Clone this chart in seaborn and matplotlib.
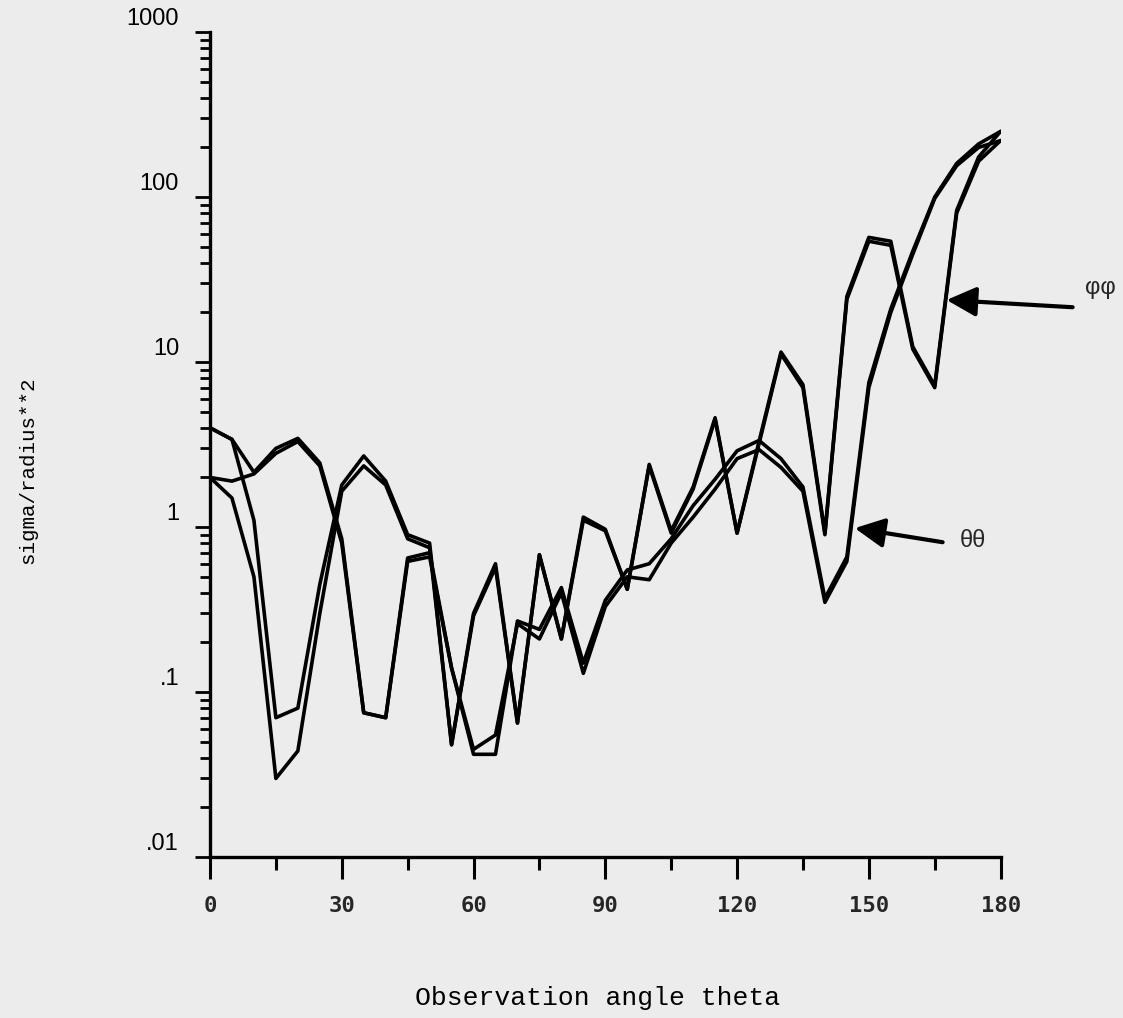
import numpy as np
import pandas as pd
import matplotlib
matplotlib.use("Agg")
import matplotlib.pyplot as plt
import matplotlib.transforms as mtransforms
from matplotlib.ticker import MultipleLocator, LogLocator, NullFormatter
import seaborn as sns

# observation angle, every 5 degrees
theta = list(range(0, 181, 5))

# phi-phi polarisation, two computations
phiphi_a = [4.0, 3.4, 1.1, 0.07, 0.08, 0.45, 1.8, 2.7, 1.9, 0.9, 0.8, 0.048, 0.3,
            0.6, 0.065, 0.68, 0.21, 1.15, 0.97, 0.42, 2.4, 0.95, 1.75, 4.6, 0.92,
            3.3, 11.5, 7.3, 0.92, 25, 57, 54, 12.4, 7.2, 83, 175, 250]
phiphi_b = [2.0, 1.5, 0.5, 0.03, 0.044, 0.3, 1.65, 2.35, 1.8, 0.85, 0.75, 0.048, 0.29,
            0.57, 0.065, 0.68, 0.21, 1.1, 0.95, 0.42, 2.35, 0.92, 1.7, 4.5, 0.92,
            3.2, 11.2, 7.0, 0.9, 24, 54, 51, 12, 7.0, 80, 165, 220]

# theta-theta polarisation, two computations
thth_a = [4.0, 3.4, 2.15, 3.0, 3.45, 2.45, 0.85, 0.075, 0.07, 0.62, 0.66, 0.14, 0.042,
          0.042, 0.27, 0.24, 0.43, 0.15, 0.36, 0.55, 0.6, 0.85, 1.35, 1.95, 2.9,
          3.35, 2.6, 1.75, 0.37, 0.66, 7.5, 21, 47, 100, 160, 210, 250]
thth_b = [2.0, 1.9, 2.1, 2.8, 3.3, 2.35, 0.8, 0.075, 0.07, 0.65, 0.7, 0.14, 0.045,
          0.055, 0.26, 0.21, 0.40, 0.13, 0.33, 0.5, 0.48, 0.8, 1.15, 1.7, 2.6,
          2.95, 2.3, 1.65, 0.35, 0.62, 7.0, 20, 45, 98, 155, 200, 220]

y_ticks = [0.01, 0.1, 1, 10, 100, 1000]
y_tick_labels = [".01", ".1", "1", "10", "100", "1000"]
x_ticks = [0, 30, 60, 90, 120, 150, 180]

sns.set_theme(style="white")
plt.rcParams["font.family"] = ["Liberation Sans", "DejaVu Sans"]

paper = "#ececec"
fig = plt.figure(figsize=(11.23, 10.18), dpi=100, facecolor=paper)
ax = fig.add_axes([0.187, 0.158, 0.704, 0.8105])
ax.set_facecolor(paper)

for series in (thth_a, thth_b, phiphi_a, phiphi_b):
    sns.lineplot(x=theta, y=series, color="black", linewidth=2.6, ax=ax)

ax.set_yscale("log")
ax.set_xlim(0, 180)
ax.set_ylim(0.01, 1000)

for side in ("top", "right"):
    ax.spines[side].set_visible(False)
for side in ("left", "bottom"):
    ax.spines[side].set_linewidth(2.4)
    ax.spines[side].set_color("black")

# x axis ticks
ax.xaxis.set_major_locator(MultipleLocator(30))
ax.xaxis.set_minor_locator(MultipleLocator(15))
ax.tick_params(axis="x", which="major", direction="out", length=16, width=2.2,
               color="black", pad=12, bottom=True)
ax.tick_params(axis="x", which="minor", direction="out", length=9, width=2.2,
               color="black", bottom=True)
ax.set_xticks(x_ticks)
ax.set_xticklabels([str(t) for t in x_ticks], fontfamily="DejaVu Sans Mono",
                   fontweight="bold", fontsize=16)

# y axis ticks, labels sit just above each decade tick
ax.yaxis.set_major_locator(LogLocator(base=10, numticks=10))
ax.yaxis.set_minor_locator(LogLocator(base=10, subs=np.arange(2, 10), numticks=10))
ax.yaxis.set_minor_formatter(NullFormatter())
ax.set_yticks(y_ticks)
ax.set_yticklabels([])
ax.tick_params(axis="y", which="major", direction="out", length=11, width=2.0,
               color="black", left=True)
ax.tick_params(axis="y", which="minor", direction="out", length=7, width=2.0,
               color="black", left=True)
trans = mtransforms.offset_copy(ax.get_yaxis_transform(), fig=fig, x=-31, y=2, units="dots")
for val, lab in zip(y_ticks, y_tick_labels):
    ax.text(0, val, lab, transform=trans, ha="right", va="bottom", fontsize=17,
            color="black")

ax.grid(False)

fig.text(0.5325, 0.0196, "Observation angle theta", ha="center", va="center",
         fontfamily="Liberation Mono", fontsize=19, color="black")
fig.text(0.025, 0.538, "sigma/radius**2", ha="center", va="center", rotation=90,
         fontfamily="Liberation Mono", fontsize=15, color="black")

arrow = dict(arrowstyle="-|>,head_length=1.5,head_width=0.75", color="black",
             linewidth=3, shrinkA=0, shrinkB=0)
ax.annotate("", xy=(167.7, 23.8), xytext=(196.4, 21.5), arrowprops=arrow,
            annotation_clip=False)
ax.annotate("", xy=(146.8, 0.986), xytext=(166.8, 0.81), arrowprops=arrow,
            annotation_clip=False)
ax.text(202.8, 28, "\u03c6\u03c6", ha="center", va="center", fontsize=17,
        clip_on=False)
ax.text(173.6, 0.82, "\u03b8\u03b8", ha="center", va="center", fontsize=17,
        clip_on=False)

fig.savefig("out.png", dpi=100, facecolor=paper)
